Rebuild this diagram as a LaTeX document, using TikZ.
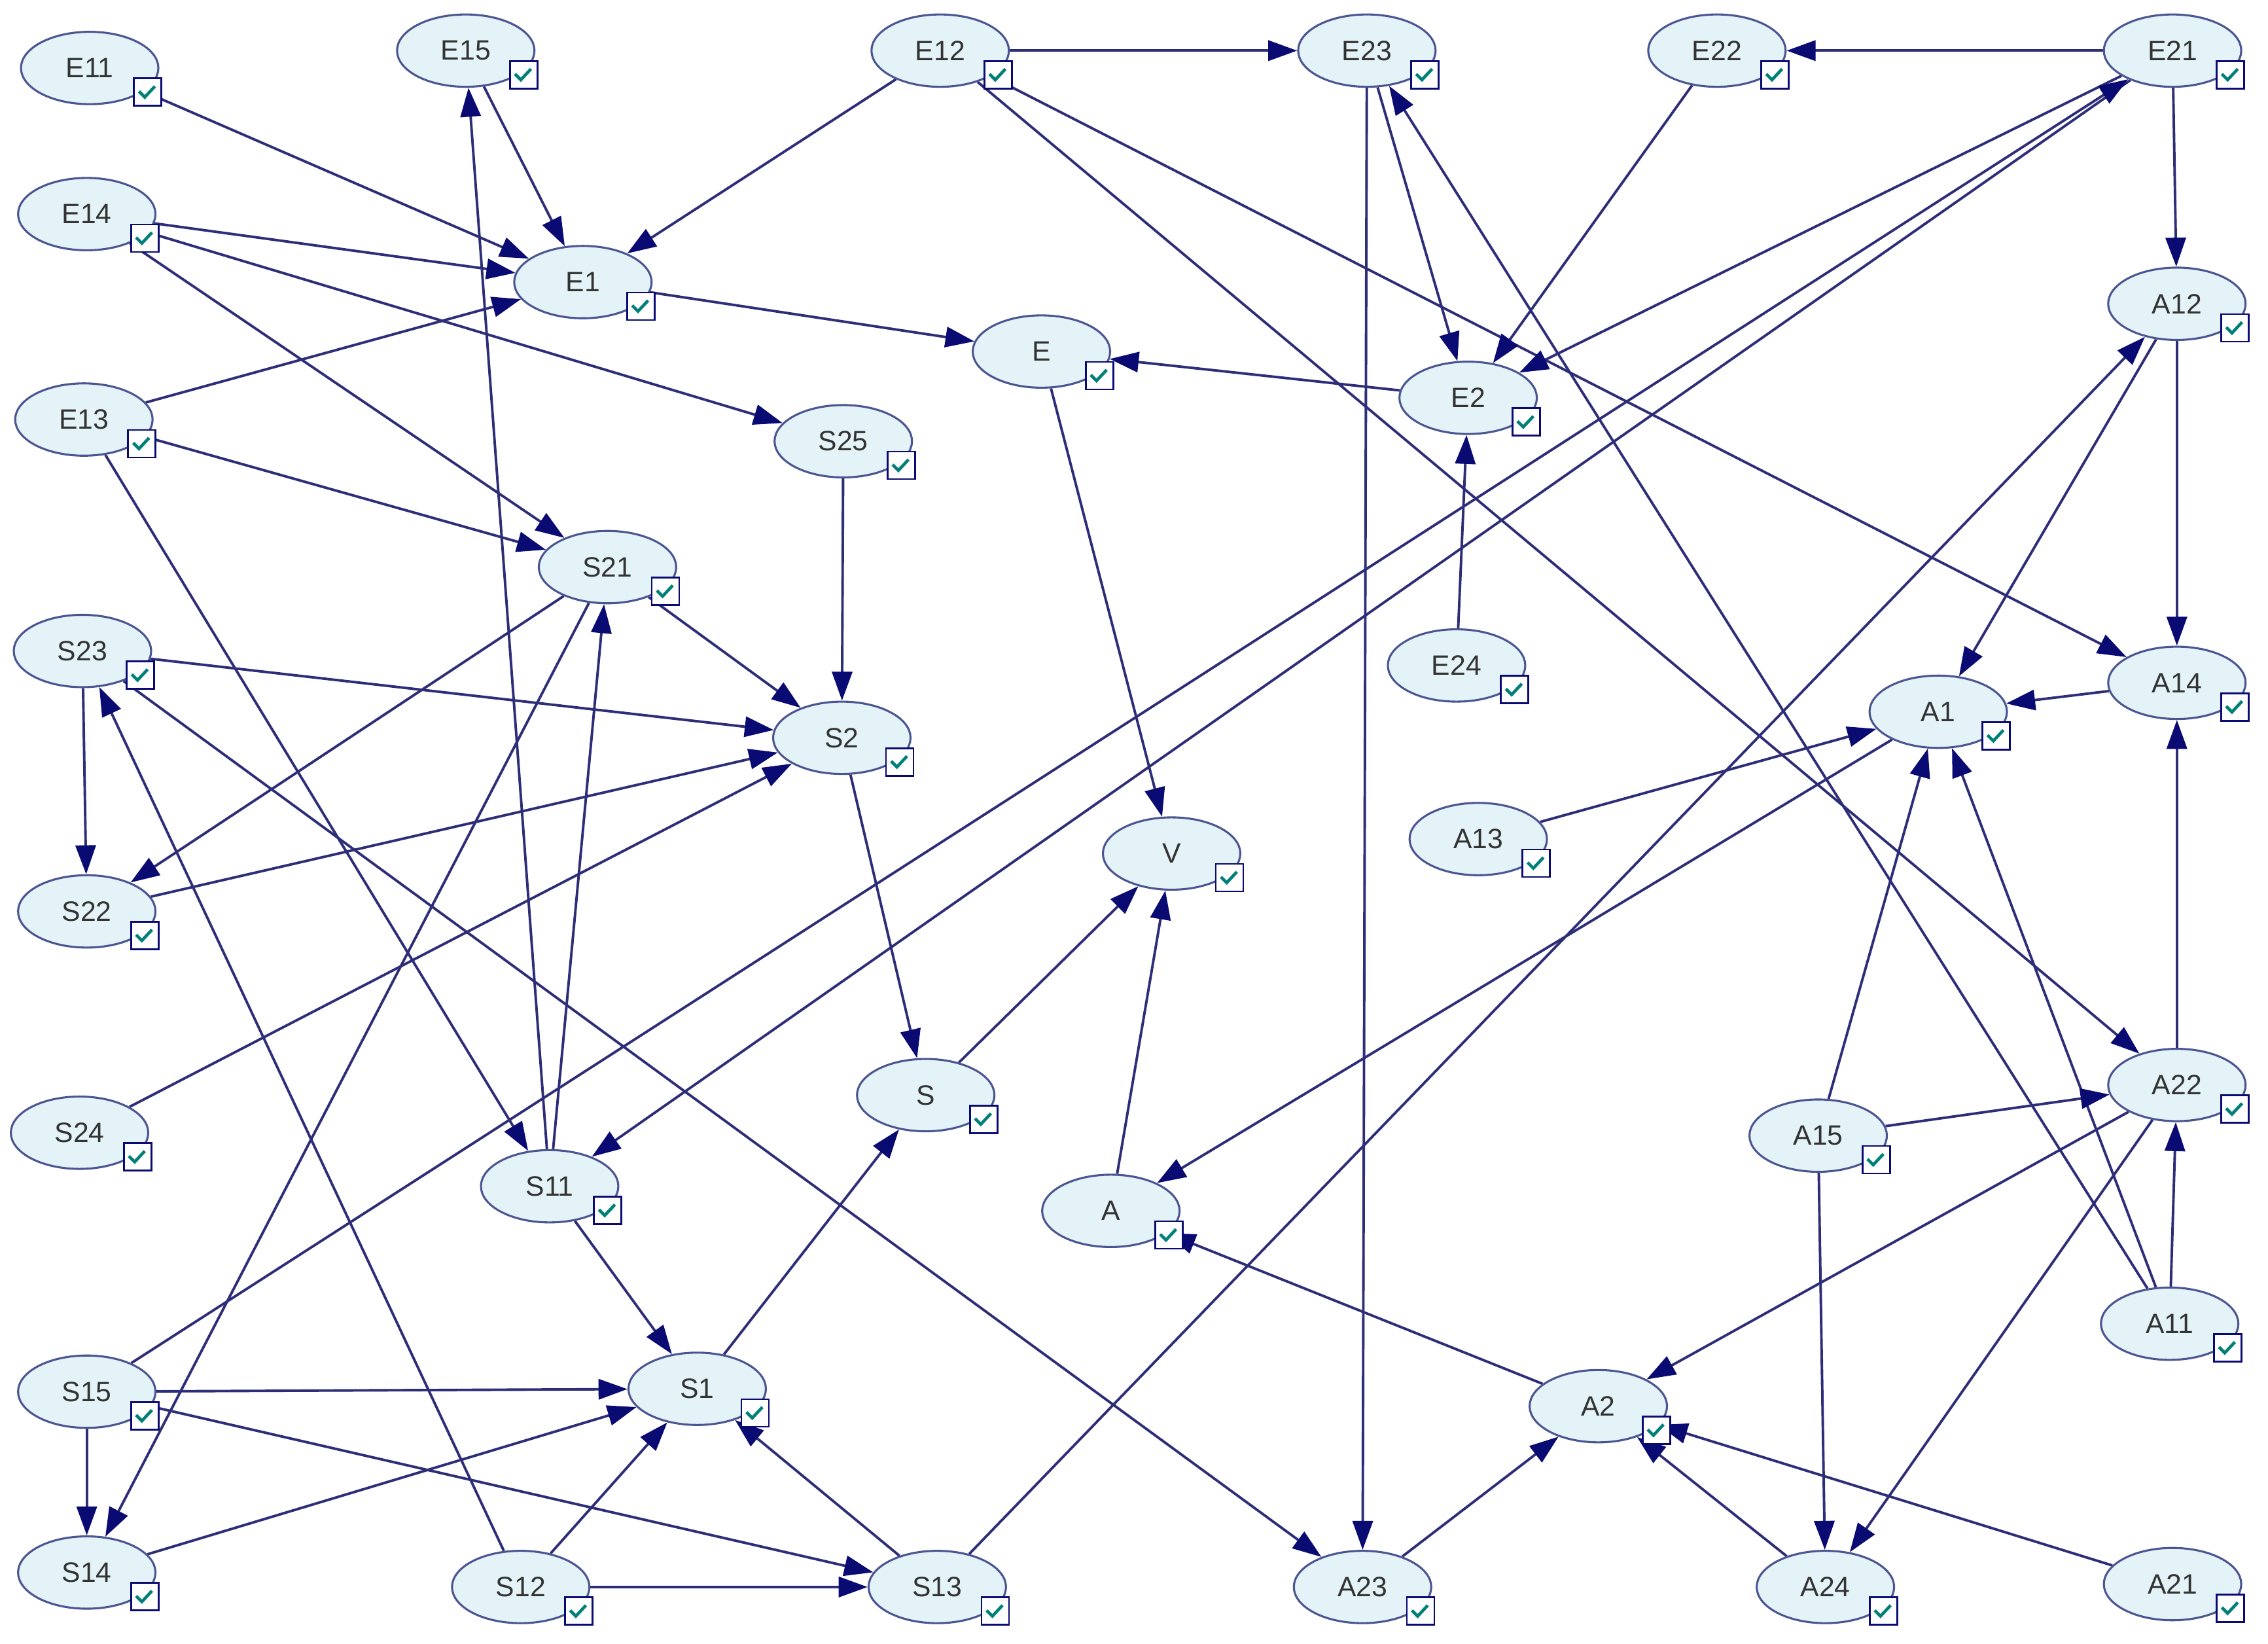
\documentclass[tikz,border=0pt]{standalone}
\usepackage{fontspec}
\setmainfont{Liberation Sans}
\usetikzlibrary{shapes.geometric, arrows.meta, backgrounds}

\definecolor{edgeblue}{RGB}{45,45,120}
\definecolor{tipblue}{RGB}{10,10,115}
\definecolor{nodefill}{RGB}{228,243,247}
\definecolor{nodeline}{RGB}{75,85,145}
\definecolor{checkteal}{RGB}{0,128,120}

\begin{document}
\begin{tikzpicture}[
    x=0.2mm, y=-0.2mm,
    >={Triangle[length=4mm, width=2.8mm, color=tipblue]},
    every node/.style={font=\fontsize{11}{13}\selectfont, text=black!80},
    chkbox/.style={draw=tipblue, fill=white, line width=0.7pt, minimum size=3.8mm, inner sep=0pt,
        path picture={\draw[checkteal, line width=1.2pt]
            ([shift={(-1.2mm,0.1mm)}]path picture bounding box.center) -- ++(0.8mm,-0.8mm) -- ++(1.4mm,1.5mm);}},
    bnode/.style={ellipse, draw=nodeline, fill=nodefill, line width=0.8pt,
        minimum width=19mm, minimum height=10mm, inner sep=0pt,
        label={[chkbox, anchor=center, xshift=1.2mm, yshift=0.3mm]south east:{}}},
    line/.style={->, draw=edgeblue, line width=1pt}
]
\useasboundingbox (0,0) rectangle (1568,1136);

% E nodes
\node[bnode] (E11) at (62,47) {E11};
\node[bnode] (E15) at (322,35) {E15};
\node[bnode] (E12) at (650,35) {E12};
\node[bnode] (E23) at (945,35) {E23};
\node[bnode] (E22) at (1187,35) {E22};
\node[bnode] (E21) at (1502,35) {E21};
\node[bnode] (E14) at (60,148) {E14};
\node[bnode] (E1) at (403,195) {E1};
\node[bnode] (E) at (720,243) {E};
\node[bnode] (E2) at (1015,275) {E2};
\node[bnode] (E13) at (58,290) {E13};
\node[bnode] (E24) at (1007,460) {E24};

% S nodes
\node[bnode] (S25) at (583,305) {S25};
\node[bnode] (S21) at (420,392) {S21};
\node[bnode] (S23) at (57,450) {S23};
\node[bnode] (S2) at (582,510) {S2};
\node[bnode] (S22) at (60,630) {S22};
\node[bnode] (S24) at (55,783) {S24};
\node[bnode] (S) at (640,757) {S};
\node[bnode] (S11) at (380,820) {S11};
\node[bnode] (S15) at (60,962) {S15};
\node[bnode] (S1) at (482,960) {S1};
\node[bnode] (S14) at (60,1087) {S14};
\node[bnode] (S12) at (360,1097) {S12};
\node[bnode] (S13) at (648,1097) {S13};

% A nodes
\node[bnode] (A12) at (1505,210) {A12};
\node[bnode] (A1) at (1340,492) {A1};
\node[bnode] (A14) at (1505,472) {A14};
\node[bnode] (A13) at (1022,580) {A13};
\node[bnode] (V) at (810,590) {V};
\node[bnode] (A22) at (1505,750) {A22};
\node[bnode] (A15) at (1257,785) {A15};
\node[bnode] (A) at (768,837) {A};
\node[bnode] (A11) at (1500,915) {A11};
\node[bnode] (A2) at (1105,972) {A2};
\node[bnode] (A23) at (942,1097) {A23};
\node[bnode] (A24) at (1262,1097) {A24};
\node[bnode] (A21) at (1502,1095) {A21};

% Arrows
\begin{scope}[on background layer]
\draw[line] (E11) -- (E1);
\draw[line] (E15) -- (E1);
\draw[line] (E12) -- (E1);
\draw[line] (E14) -- (E1);
\draw[line] (E13) -- (E1);
\draw[line] (E12) -- (E23);
\draw[line] (E12) -- (A14);
\draw[line] (E12) -- (A22);
\draw[line] (E21) -- (E22);
\draw[line] (E21) -- (A12);
\draw[line] (E21) -- (E2);
\draw[line] (E21) -- (S11);
\draw[line] (S15) -- (E21);
\draw[line] (E22) -- (E2);
\draw[line] (E23) -- (E2);
\draw[line] (E24) -- (E2);
\draw[line] (E23) -- (A23);
\draw[line] (A11) -- (E23);
\draw[line] (E14) -- (S25);
\draw[line] (E14) -- (S21);
\draw[line] (E13) -- (S21);
\draw[line] (E13) -- (S11);
\draw[line] (E1) -- (E);
\draw[line] (E2) -- (E);
\draw[line] (E) -- (V);

\draw[line] (S25) -- (S2);
\draw[line] (S21) -- (S2);
\draw[line] (S23) -- (S2);
\draw[line] (S22) -- (S2);
\draw[line] (S24) -- (S2);
\draw[line] (S21) -- (S22);
\draw[line] (S23) -- (S22);
\draw[line] (S21) -- (S14);
\draw[line] (S11) -- (S21);
\draw[line] (S11) -- (E15);
\draw[line] (S23) -- (A23);
\draw[line] (S12) -- (S23);
\draw[line] (S2) -- (S);
\draw[line] (S1) -- (S);
\draw[line] (S) -- (V);
\draw[line] (S11) -- (S1);
\draw[line] (S15) -- (S1);
\draw[line] (S14) -- (S1);
\draw[line] (S12) -- (S1);
\draw[line] (S13) -- (S1);
\draw[line] (S15) -- (S14);
\draw[line] (S15) -- (S13);
\draw[line] (S12) -- (S13);
\draw[line] (S13) -- (A12);

\draw[line] (A) -- (V);
\draw[line] (A1) -- (A);
\draw[line] (A2) -- (A);
\draw[line] (A12) -- (A1);
\draw[line] (A14) -- (A1);
\draw[line] (A13) -- (A1);
\draw[line] (A15) -- (A1);
\draw[line] (A11) -- (A1);
\draw[line] (A12) -- (A14);
\draw[line] (A22) -- (A14);
\draw[line] (A15) -- (A22);
\draw[line] (A11) -- (A22);
\draw[line] (A15) -- (A24);
\draw[line] (A22) -- (A24);
\draw[line] (A22) -- (A2);
\draw[line] (A23) -- (A2);
\draw[line] (A24) -- (A2);
\draw[line] (A21) -- (A2);
\end{scope}

\end{tikzpicture}
\end{document}
